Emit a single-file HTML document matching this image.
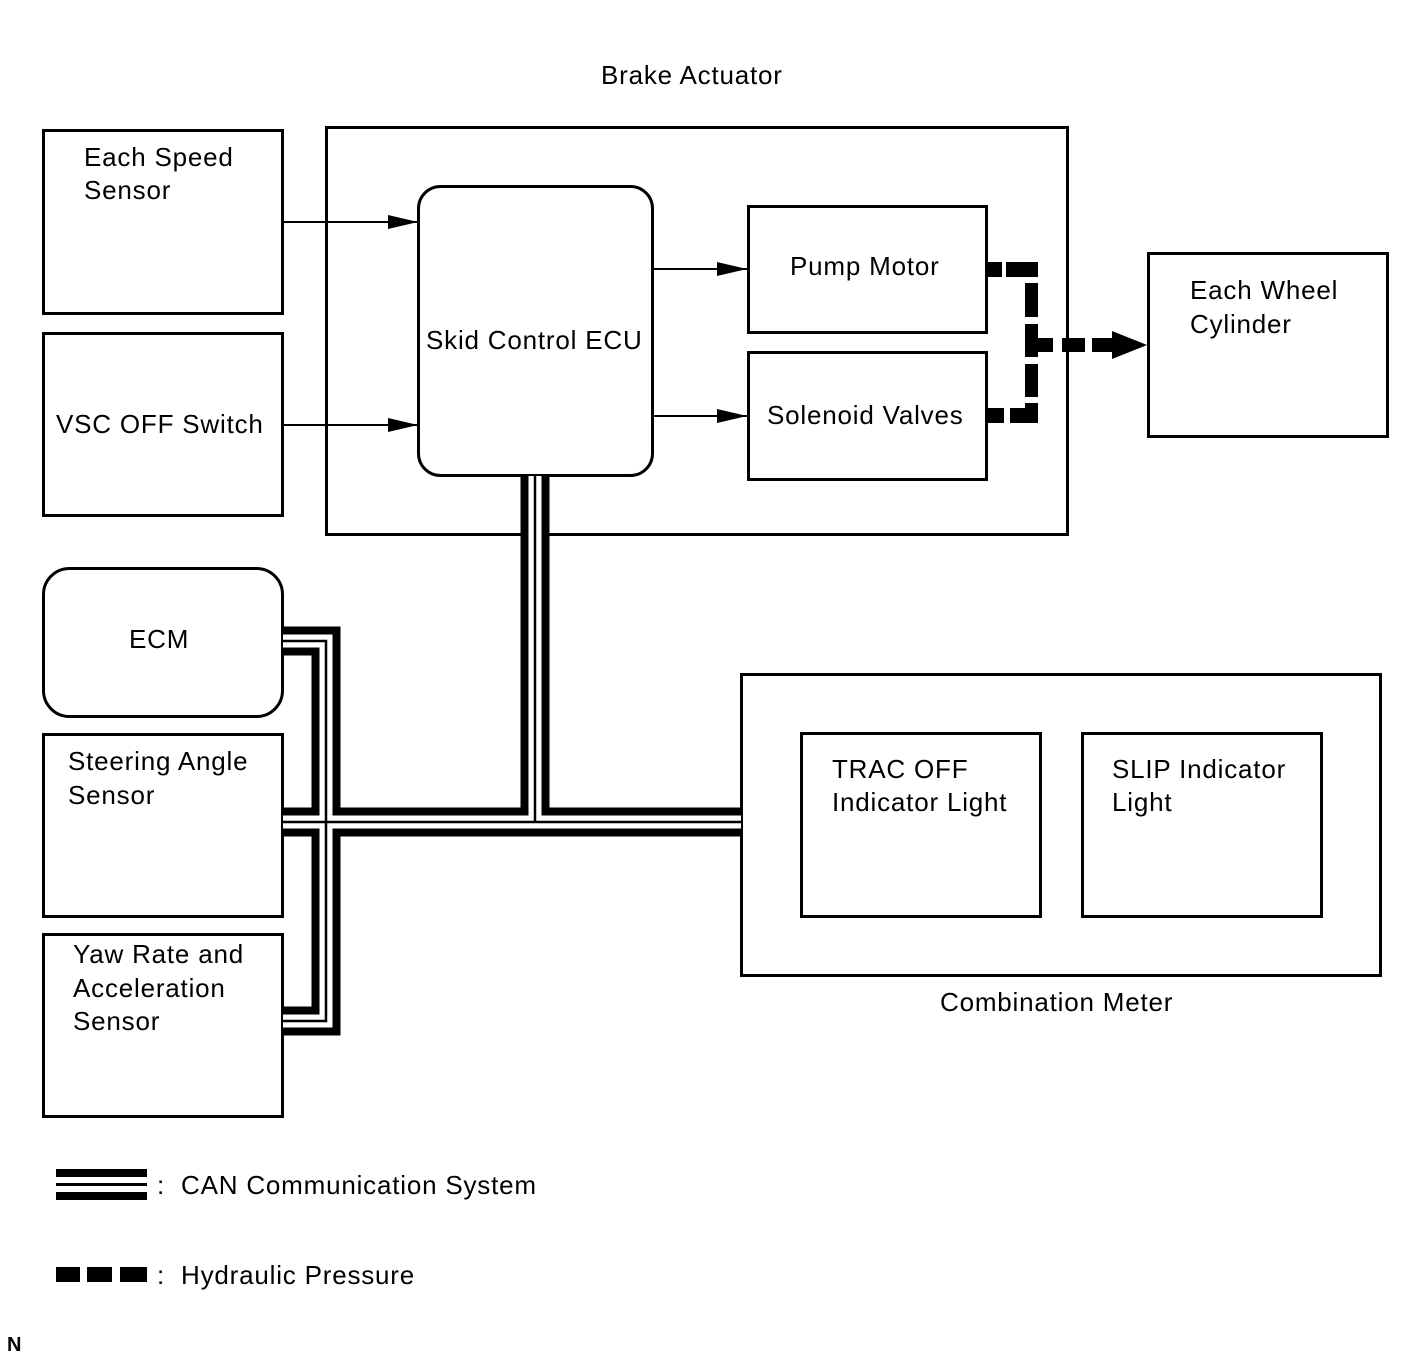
<!DOCTYPE html>
<html><head><meta charset="utf-8"><style>
html,body{margin:0;padding:0;background:#fff;}
svg{display:block;}
text{font-family:"Liberation Sans",Arial,sans-serif;font-size:26px;fill:#000;letter-spacing:0.8px;}
</style></head><body>
<svg width="1424" height="1361" viewBox="0 0 1424 1361" xmlns="http://www.w3.org/2000/svg">
<defs>
<marker id="ar" markerWidth="30" markerHeight="14" refX="30" refY="7" orient="auto" markerUnits="userSpaceOnUse">
<path d="M0,0 L30,7 L0,14 Z" fill="#000"/></marker>
</defs>
<g fill="none" stroke="#000" stroke-width="3">
<rect x="43.5" y="130.5" width="239" height="183"/>
<rect x="43.5" y="333.5" width="239" height="182"/>
<rect x="43.5" y="568.5" width="239" height="148" rx="26"/>
<rect x="43.5" y="734.5" width="239" height="182"/>
<rect x="43.5" y="934.5" width="239" height="182"/>
<rect x="326.5" y="127.5" width="741" height="407"/>
<rect x="418.5" y="186.5" width="234" height="289" rx="22"/>
<rect x="748.5" y="206.5" width="238" height="126"/>
<rect x="748.5" y="352.5" width="238" height="127"/>
<rect x="1148.5" y="253.5" width="239" height="183"/>
<rect x="741.5" y="674.5" width="639" height="301"/>
<rect x="801.5" y="733.5" width="239" height="183"/>
<rect x="1082.5" y="733.5" width="239" height="183"/>
</g>
<g stroke="#000" stroke-width="2" fill="none">
<line x1="283" y1="222" x2="418" y2="222" marker-end="url(#ar)"/>
<line x1="283" y1="425" x2="418" y2="425" marker-end="url(#ar)"/>
<line x1="653" y1="269" x2="747" y2="269" marker-end="url(#ar)"/>
<line x1="653" y1="416" x2="747" y2="416" marker-end="url(#ar)"/>
</g>
<g fill="none" stroke-linejoin="miter" stroke-linecap="butt">
<g stroke="#000" stroke-width="29">
<path d="M283,641 H326 V1021 H283"/>
<path d="M283,822 H741"/>
<path d="M535,476 V822"/>
</g>
<g stroke="#fff" stroke-width="13">
<path d="M283,641 H326 V1021 H283"/>
<path d="M283,822 H741"/>
<path d="M535,476 V822"/>
</g>
<g stroke="#000" stroke-width="2.5">
<path d="M283,641 H326 V1021 H283"/>
<path d="M283,822 H741"/>
<path d="M535,476 V822"/>
</g>
</g>
<g fill="#000">
<rect x="988" y="262" width="14" height="15"/>
<rect x="1006" y="262" width="32" height="15"/>
<rect x="1025" y="283" width="13" height="34"/>
<rect x="1025" y="324" width="13" height="33"/>
<rect x="1025" y="364" width="13" height="33"/>
<rect x="1025" y="403" width="13" height="20"/>
<rect x="988" y="408" width="16" height="15"/>
<rect x="1010" y="408" width="28" height="15"/>
<rect x="1038" y="338" width="15" height="14"/>
<rect x="1062" y="338" width="23" height="14"/>
<rect x="1092" y="338" width="22" height="14"/>
<path d="M1112,331 L1147,345 L1112,359 Z"/>
</g>
<g fill="#000">
<rect x="56" y="1169" width="91" height="8"/>
<rect x="56" y="1183" width="91" height="3"/>
<rect x="56" y="1192" width="91" height="8"/>
<rect x="56" y="1267" width="24" height="15"/>
<rect x="87" y="1267" width="25" height="15"/>
<rect x="120" y="1267" width="27" height="15"/>
</g>
<text x="601" y="84">Brake Actuator</text>
<text x="84" y="166">Each Speed</text>
<text x="84" y="199">Sensor</text>
<text x="56" y="433">VSC OFF Switch</text>
<text x="426" y="349">Skid Control ECU</text>
<text x="790" y="275">Pump Motor</text>
<text x="767" y="424">Solenoid Valves</text>
<text x="1190" y="299">Each Wheel</text>
<text x="1190" y="333">Cylinder</text>
<text x="129" y="648">ECM</text>
<text x="68" y="770">Steering Angle</text>
<text x="68" y="804">Sensor</text>
<text x="73" y="963">Yaw Rate and</text>
<text x="73" y="997">Acceleration</text>
<text x="73" y="1030">Sensor</text>
<text x="832" y="778">TRAC OFF</text>
<text x="832" y="811">Indicator Light</text>
<text x="1112" y="778">SLIP Indicator</text>
<text x="1112" y="811">Light</text>
<text x="940" y="1011">Combination Meter</text>
<text x="157" y="1194">:</text>
<text x="181" y="1194">CAN Communication System</text>
<text x="157" y="1284">:</text>
<text x="181" y="1284">Hydraulic Pressure</text>
<text x="7" y="1351" style="font-size:20px;font-weight:bold;letter-spacing:0">N</text>
</svg>
</body></html>
